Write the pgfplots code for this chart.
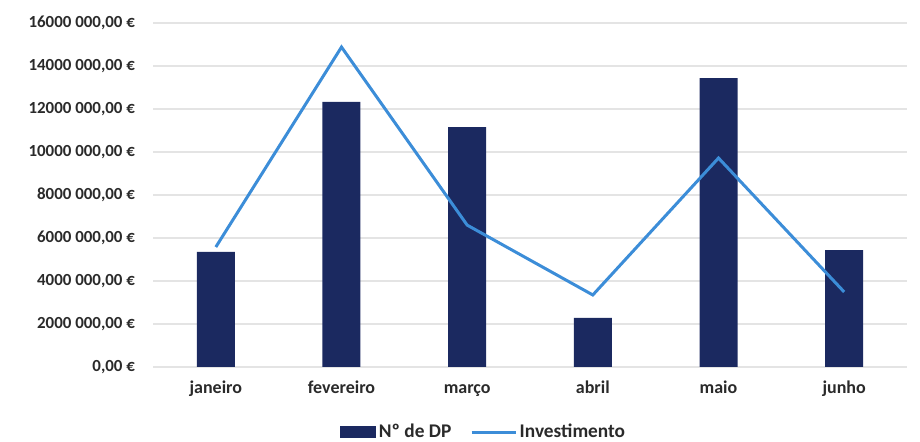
\documentclass[border=0pt]{standalone}
\usepackage{pgfplots}
\pgfplotsset{compat=1.18}
\usepackage{fontspec}
\setmainfont{Carlito}
\definecolor{barnavy}{HTML}{1B2960}
\definecolor{lineblue}{HTML}{3C8DD8}
\definecolor{gridgray}{HTML}{E4E4E4}
\definecolor{labelgray}{HTML}{2A2A2A}
\begin{document}
\begin{tikzpicture}
\begin{axis}[
  scale only axis,
  width=565.5pt, height=258pt,
  xmin=-0.5, xmax=5.5,
  ymin=0, ymax=16000000,
  xtick={0,1,2,3,4,5},
  xticklabels={janeiro,fevereiro,março,abril,maio,junho},
  ytick={0,2000000,4000000,6000000,8000000,10000000,12000000,14000000,16000000},
  yticklabels={{0,00 €},{2000 000,00 €},{4000 000,00 €},{6000 000,00 €},{8000 000,00 €},{10000 000,00 €},{12000 000,00 €},{14000 000,00 €},{16000 000,00 €}},
  yticklabel style={font=\fontsize{12.7}{14}\selectfont\bfseries, text=labelgray},
  xticklabel style={font=\fontsize{13.5}{15}\selectfont\bfseries, text=labelgray,
    text height=1.6ex, text depth=0.5ex},
  scaled y ticks=false,
  major tick length=0pt,
  axis line style={draw=none},
  ymajorgrids,
  grid style={gridgray, line width=0.9pt},
  yticklabel shift=10pt,
  xticklabel shift=9pt,
  legend columns=2,
  legend style={draw=none, at={(0.5,0)}, anchor=center, yshift=-48.75pt, xshift=-34.5pt,
    font=\fontsize{14.5}{16}\selectfont\bfseries, text=labelgray,
    /tikz/every even column/.append style={column sep=12pt}},
]
\addplot[ybar, bar width=38*0.75pt, fill=barnavy, draw=none,
  legend image code/.code={\fill[barnavy] (0pt,-4.5pt) rectangle (27pt,4.5pt);}]
  coordinates {(0,5350000) (1,12330000) (2,11160000) (3,2280000) (4,13440000) (5,5440000)};
\addlegendentry{Nº de DP}
\addplot[lineblue, line width=2.25pt, mark=none,
  legend image code/.code={\draw[lineblue, line width=2.25pt] (0pt,0pt) -- (33pt,0pt);}]
  coordinates {(0,5580000) (1,14880000) (2,6600000) (3,3350000) (4,9720000) (5,3490000)};
\addlegendentry{Investimento}
\end{axis}
\pgfresetboundingbox
\path (-114.75pt,-56.25pt) rectangle (575.25pt,275.25pt);
\end{tikzpicture}
\end{document}
